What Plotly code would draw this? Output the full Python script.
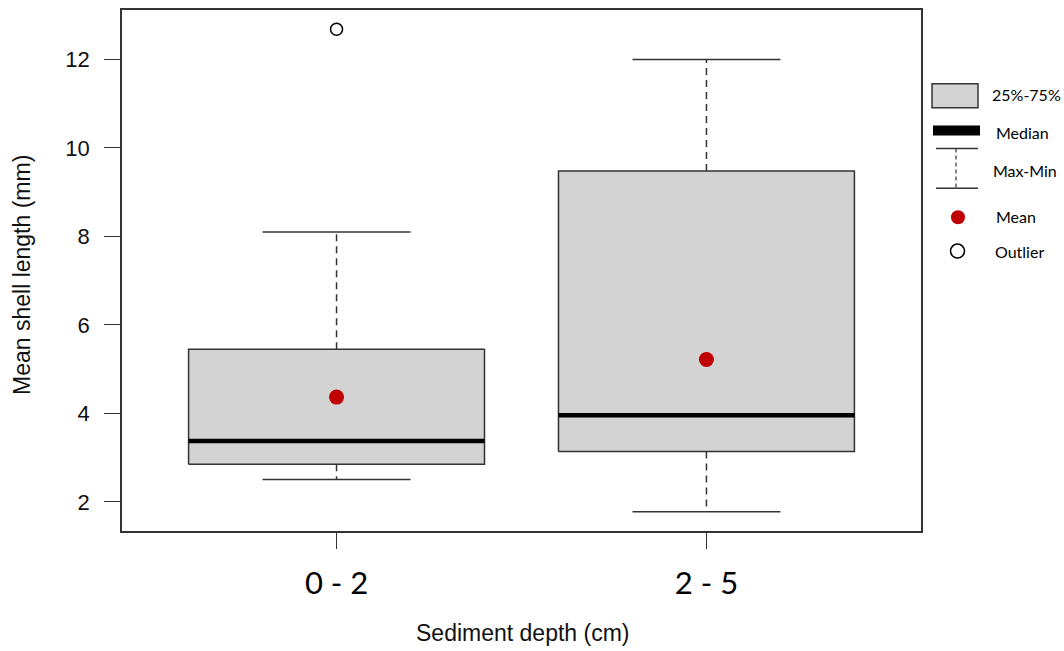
import plotly.graph_objects as go

# ---------------- data ----------------
categories = ["0 - 2", "2 - 5"]
positions = [1, 2]
q1 = [2.85, 3.14]
median = [3.38, 3.96]
q3 = [5.45, 9.48]
whisker_low = [2.51, 1.78]
whisker_high = [8.10, 12.00]
means = [4.37, 5.22]
outlier_x = [1]
outlier_y = [12.68]

y_ticks = [2, 4, 6, 8, 10, 12]

legend_labels = ["25%-75%", "Median", "Max-Min", "Mean", "Outlier"]

# ---------------- styling ----------------
BOX_HALF = 0.4
CAP_HALF = 0.2
LINE_COL = "#333333"
FILL_COL = "#d3d3d3"
MEAN_COL = "#c00000"

fig = go.Figure()

# whiskers (dashed) and caps (solid)
for p, lo, hi, a, b in zip(positions, whisker_low, whisker_high, q1, q3):
    fig.add_trace(go.Scatter(x=[p, p, None, p, p], y=[b, hi, None, a, lo], mode="lines",
                             line=dict(color=LINE_COL, width=1.5, dash="7px,5px"),
                             hoverinfo="skip", showlegend=False))
    fig.add_trace(go.Scatter(x=[p - CAP_HALF, p + CAP_HALF, None, p - CAP_HALF, p + CAP_HALF],
                             y=[hi, hi, None, lo, lo], mode="lines",
                             line=dict(color=LINE_COL, width=1.5),
                             hoverinfo="skip", showlegend=False))

# boxes
for p, a, b in zip(positions, q1, q3):
    fig.add_trace(go.Scatter(x=[p - BOX_HALF, p + BOX_HALF, p + BOX_HALF, p - BOX_HALF, p - BOX_HALF],
                             y=[a, a, b, b, a], mode="lines", fill="toself",
                             fillcolor=FILL_COL, line=dict(color=LINE_COL, width=1.5),
                             hoverinfo="skip", showlegend=False))

# medians
for p, m in zip(positions, median):
    fig.add_trace(go.Scatter(x=[p - BOX_HALF, p + BOX_HALF], y=[m, m], mode="lines",
                             line=dict(color="black", width=4.5),
                             hoverinfo="skip", showlegend=False))

# means
fig.add_trace(go.Scatter(x=positions, y=means, mode="markers",
                         marker=dict(color=MEAN_COL, size=15, line=dict(width=0)),
                         showlegend=False))

# outliers
fig.add_trace(go.Scatter(x=outlier_x, y=outlier_y, mode="markers",
                         marker=dict(symbol="circle-open", color="black", size=12,
                                     line=dict(width=1.5)),
                         showlegend=False))

# ---------------- layout ----------------
L, R, T, B = 122, 143, 8, 120
W, H = 1064, 651
PW, PH = W - L - R, H - T - B


def px(xp):
    return (xp - L) / PW


def py(yp):
    return (H - B - yp) / PH


fig.update_layout(
    width=W, height=H,
    margin=dict(l=L, r=R, t=T, b=B, pad=0),
    paper_bgcolor="white", plot_bgcolor="white",
    showlegend=False,
    xaxis=dict(range=[0.42, 2.58], tickvals=positions, ticktext=categories,
               showgrid=False, zeroline=False, showline=True, mirror=True,
               linecolor=LINE_COL, linewidth=1.5,
               ticks="outside", ticklen=16, tickwidth=1.3, tickcolor=LINE_COL,
               ticklabelstandoff=8,
               tickfont=dict(family="Lato", size=31, color="#000")),
    yaxis=dict(range=[1.344, 13.116], tickvals=y_ticks,
               showgrid=False, zeroline=False, showline=True, mirror=True,
               linecolor=LINE_COL, linewidth=1.5,
               ticks="outside", ticklen=16, tickwidth=1.3, tickcolor=LINE_COL,
               ticklabelstandoff=10,
               tickfont=dict(family="Liberation Sans", size=22, color="#111")),
)

annotations = [
    dict(text="Mean shell length (mm)", x=px(22), y=py(274), xref="paper", yref="paper",
         textangle=-90, showarrow=False, xanchor="center", yanchor="middle",
         font=dict(family="Liberation Sans", size=23, color="#111")),
    dict(text="Sediment depth (cm)", x=px(522), y=py(633), xref="paper", yref="paper",
         showarrow=False, xanchor="center", yanchor="middle",
         font=dict(family="Liberation Sans", size=23, color="#111")),
]

# legend text
legend_pos = [(990, 93), (994, 131), (991, 169), (994, 215), (993, 250)]
for lab, (lx, ly) in zip(legend_labels, legend_pos):
    annotations.append(dict(text=lab, x=px(lx), y=py(ly), xref="paper", yref="paper",
                            showarrow=False, xanchor="left", yanchor="middle",
                            font=dict(family="Lato", size=16, color="#000")))
fig.update_layout(annotations=annotations)

# legend symbols
shapes = [
    dict(type="rect", xref="paper", yref="paper", x0=px(932), x1=px(978), y0=py(106), y1=py(82),
         fillcolor=FILL_COL, line=dict(color=LINE_COL, width=1.5)),
    dict(type="rect", xref="paper", yref="paper", x0=px(933), x1=px(980), y0=py(134), y1=py(124),
         fillcolor="black", line=dict(width=0)),
    dict(type="line", xref="paper", yref="paper", x0=px(936), x1=px(978), y0=py(147), y1=py(147),
         line=dict(color=LINE_COL, width=1.5)),
    dict(type="line", xref="paper", yref="paper", x0=px(936), x1=px(978), y0=py(187), y1=py(187),
         line=dict(color=LINE_COL, width=1.5)),
    dict(type="line", xref="paper", yref="paper", x0=px(956), x1=px(956), y0=py(147), y1=py(187),
         line=dict(color=LINE_COL, width=1.2, dash="4px,3px")),
    dict(type="circle", xref="paper", yref="paper", x0=px(951), x1=px(965), y0=py(209), y1=py(223),
         fillcolor=MEAN_COL, line=dict(width=0)),
    dict(type="circle", xref="paper", yref="paper", x0=px(950.5), x1=px(964.5), y0=py(243), y1=py(257),
         fillcolor="white", line=dict(color="black", width=1.5)),
]
fig.update_layout(shapes=shapes)

fig.write_html("out.html")
